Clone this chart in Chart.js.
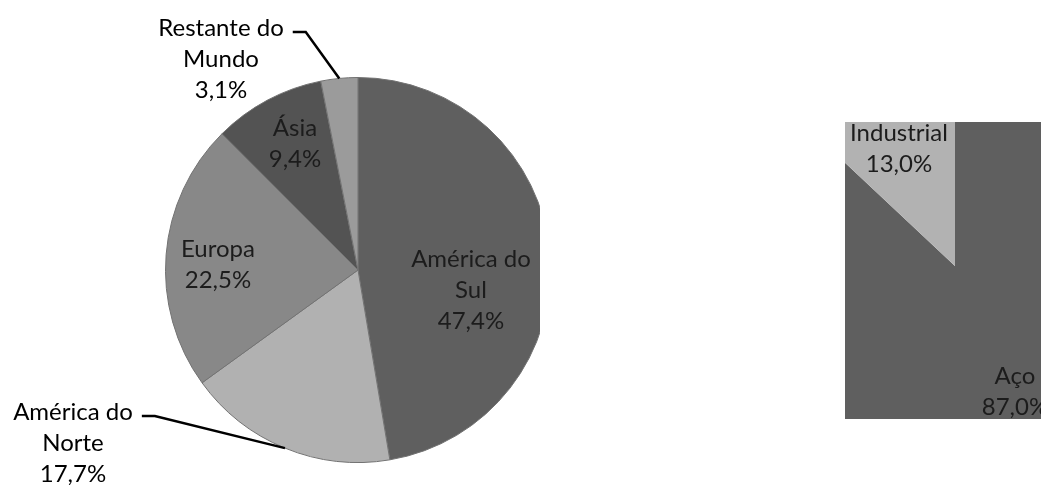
<!DOCTYPE html>
<html>
<head>
<meta charset="utf-8">
<script src="https://cdn.jsdelivr.net/npm/chart.js@4.4.0/dist/chart.umd.min.js"></script>
<style>
  body { margin: 0; background: #fff; width: 1041px; height: 485px; overflow: hidden; position: relative; }
  #caixa1 { position: absolute; left: 0; top: 0; width: 540px; height: 485px; overflow: hidden; }
  #caixa2 { position: absolute; left: 845px; top: 122px; width: 196px; height: 297px; overflow: hidden; }
  #grafico1 { position: absolute; left: 0; top: 0; }
  #grafico2 { position: absolute; left: -290px; top: -256px; }
</style>
</head>
<body>
<div id="caixa1"><canvas id="grafico1" width="716" height="540"></canvas></div>
<div id="caixa2"><canvas id="grafico2" width="800" height="800"></canvas></div>
<script>
// Grafico da esquerda: participacao por regiao
var regioes = ["América do Sul", "América do Norte", "Europa", "Ásia", "Restante do Mundo"];
var regioes_linhas = [["América do", "Sul"], ["América do", "Norte"], ["Europa"], ["Ásia"], ["Restante do", "Mundo"]];
var regioes_pct = [47.4, 17.7, 22.5, 9.4, 3.1];
var regioes_cor = ["#5f5f5f", "#b1b1b1", "#888888", "#535353", "#9b9b9b"];

// Grafico da direita: participacao por setor
var setores = ["Aço", "Industrial"];
var setores_linhas = [["Aço"], ["Industrial"]];
var setores_pct = [87.0, 13.0];
var setores_cor = ["#5f5f5f", "#b2b2b2"];

// posicao dos rotulos em relacao ao centro da pizza (dx, dy, com linha guia?)
var pos_regioes = [[113, 20, false], [-285, 173, true], [-140, -5, false], [-63, -126, false], [-137, -211, true]];
var pos_setores = [[60, 126, false], [-56, -117, false]];

function fmt(v){
  return v.toFixed(1).replace('.', ',') + '%';
}

var rotulos = {
  id: 'rotulos',
  afterDatasetsDraw: function(chart, args, opts){
    var ctx = chart.ctx;
    var arcs = chart.getDatasetMeta(0).data;
    var cx = arcs[0].x, cy = arcs[0].y, r = arcs[0].outerRadius;
    ctx.save();
    ctx.font = opts.font;
    ctx.textAlign = 'center';
    ctx.textBaseline = 'middle';
    for (var i = 0; i < opts.pos.length; i++){
      var p = opts.pos[i];
      var linhas = opts.linhas[i].concat([fmt(chart.data.datasets[0].data[i])]);
      var x = cx + p[0], y = cy + p[1];
      var y0 = y - (linhas.length - 1) * opts.lh / 2;
      ctx.fillStyle = p[2] ? '#000' : opts.cor;
      for (var k = 0; k < linhas.length; k++){
        ctx.fillText(linhas[k], x, y0 + k * opts.lh);
      }
      // linha guia ate o meio da fatia
      if (p[2]){
        var a = (arcs[i].startAngle + arcs[i].endAngle) / 2;
        var ex = cx + r * Math.cos(a), ey = cy + r * Math.sin(a);
        var w = ctx.measureText(linhas[0]).width;
        var sx = x + w / 2 + 9, sy = y0 + 4;
        ctx.beginPath();
        ctx.moveTo(sx, sy);
        ctx.lineTo(sx + 13, sy);
        ctx.lineTo(ex, ey);
        ctx.lineWidth = 2.5;
        ctx.strokeStyle = '#000';
        ctx.stroke();
      }
    }
    ctx.restore();
  }
};

new Chart(document.getElementById('grafico1'), {
  type: 'pie',
  data: {
    labels: regioes,
    datasets: [{
      data: regioes_pct,
      backgroundColor: regioes_cor,
      borderColor: '#727272',
      borderWidth: 1
    }]
  },
  options: {
    responsive: false,
    animation: false,
    layout: { padding: { top: 77, bottom: 77, left: 0, right: 0 } },
    plugins: {
      legend: { display: false },
      tooltip: { enabled: false },
      rotulos: { pos: pos_regioes, linhas: regioes_linhas, font: '24px Lato', lh: 31, cor: '#1c1c1c' }
    }
  },
  plugins: [rotulos]
});

new Chart(document.getElementById('grafico2'), {
  type: 'pie',
  data: {
    labels: setores,
    datasets: [{
      data: setores_pct,
      backgroundColor: setores_cor,
      borderWidth: 0
    }]
  },
  options: {
    responsive: false,
    animation: false,
    layout: { padding: 0 },
    plugins: {
      legend: { display: false },
      tooltip: { enabled: false },
      rotulos: { pos: pos_setores, linhas: setores_linhas, font: '24px Lato', lh: 31, cor: '#1c1c1c' }
    }
  },
  plugins: [rotulos]
});
</script>
</body>
</html>
